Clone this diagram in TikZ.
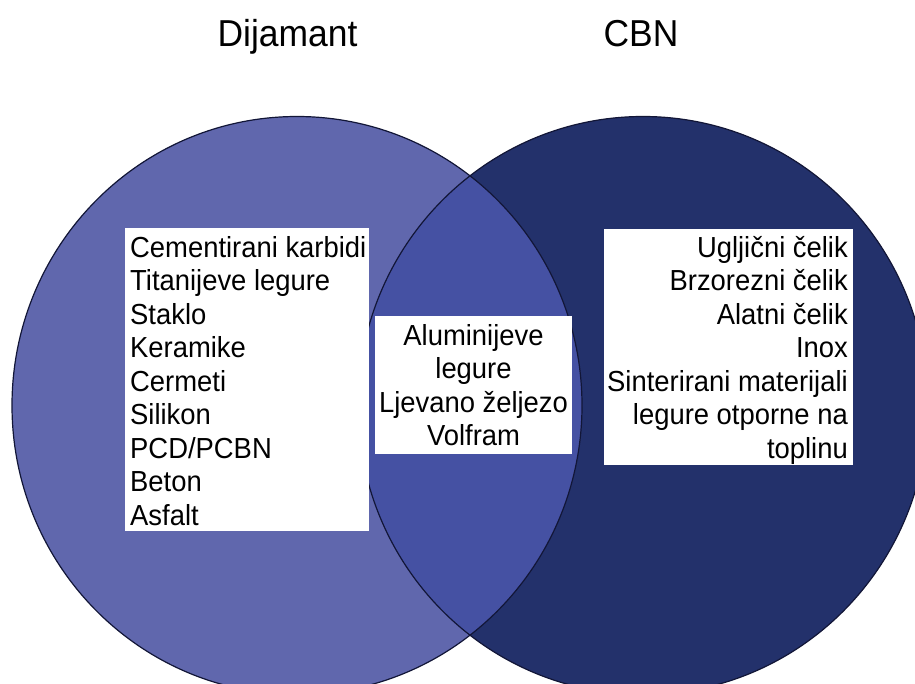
\documentclass[tikz,border=0pt]{standalone}
\usepackage{fontspec}
\setmainfont{Liberation Sans}
\newfontfamily\narrowsans[FakeStretch=0.945]{Liberation Sans}
\definecolor{leftfill}{RGB}{96,103,173}
\definecolor{rightfill}{RGB}{35,49,107}
\definecolor{lensfill}{RGB}{69,81,163}
\definecolor{edgecol}{RGB}{18,22,55}
\tikzset{
  item/.style={font=\narrowsans\fontsize{29}{33.5}\selectfont, inner sep=0pt, text=black},
  titletext/.style={font=\narrowsans\fontsize{37.5}{40}\selectfont, inner sep=0pt, text=black},
  whitebox/.style={fill=white, draw=none, inner sep=0pt},
  ring/.style={draw=edgecol, line width=1.2pt},
  vennshape/.style={x radius=285pt, y radius=289pt}
}
\begin{document}
\begin{tikzpicture}[x=1pt,y=1pt]
\useasboundingbox (0,0) rectangle (915,-683);
\clip (0,0) rectangle (915,-683);
\coordinate (cL) at (297,-405.5);
\coordinate (cR) at (643,-405.5);
% circles
\fill[leftfill] (cL) ellipse[vennshape];
\fill[rightfill] (cR) ellipse[vennshape];
\begin{scope}
  \clip (cL) ellipse[vennshape];
  \fill[lensfill] (cR) ellipse[vennshape];
\end{scope}
\draw[ring] (cL) ellipse[vennshape];
\draw[ring] (cR) ellipse[vennshape];
% titles
\node[titletext, anchor=base] (tD) at (287.5,-46) {Dijamant};
\node[titletext, anchor=base] (tC) at (641,-46) {CBN};
% boxes
\path[whitebox] (125,-228) rectangle (369,-531);
\path[whitebox] (375,-316) rectangle (572,-454);
\path[whitebox] (604,-229) rectangle (853,-465);
% left list
\foreach \t [count=\i] in {Cementirani karbidi,Titanijeve legure,Staklo,Keramike,Cermeti,Silikon,PCD/PCBN,Beton,Asfalt}
  \node[item, anchor=base west] (l\i) at (130,{-257-33.5*(\i-1)}) {\t};
% middle list
\foreach \t [count=\i] in {Aluminijeve,legure,Ljevano željezo,Volfram}
  \node[item, anchor=base] (m\i) at (473.5,{-345-33.5*(\i-1)}) {\t};
% right list
\foreach \t [count=\i] in {Ugljični čelik,Brzorezni čelik,Alatni čelik,Inox,Sinterirani materijali,legure otporne na,toplinu}
  \node[item, anchor=base east] (r\i) at (848,{-257-33.5*(\i-1)}) {\t};
\end{tikzpicture}
\end{document}
